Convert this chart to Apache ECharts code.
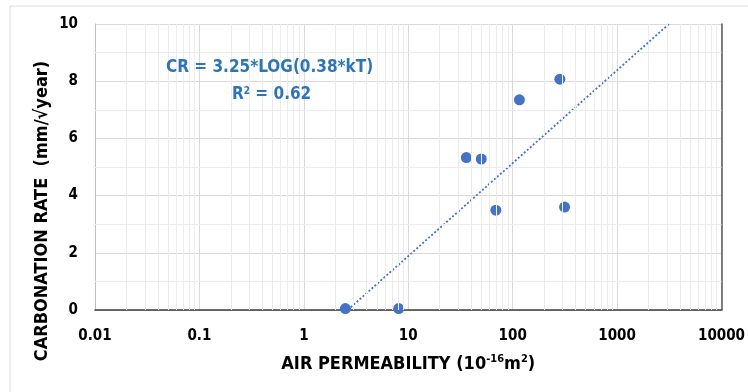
<!DOCTYPE html>
<html>
<head>
<meta charset="utf-8">
<script src="https://cdn.jsdelivr.net/npm/echarts@6/dist/echarts.min.js"></script>
<style>html,body{margin:0;padding:0;background:#fff;}#c{width:748px;height:392px;}</style>
</head>
<body>
<div id="c"></div>
<script>
// Data
const permeability = [2.5, 8.1, 36, 50, 69, 116, 283, 314];
const carbonationRate = [0.05, 0.05, 5.33, 5.28, 3.49, 7.35, 8.07, 3.6];
// Trendline endpoints as seen in the picture (CR = 3.25*LOG(0.38*kT))
const trendK = [2.63, 3140];
const trendCR = [0, 10];
const xTickLabels = ['0.01', '0.1', '1', '10', '100', '1000', '10000'];
const yTickLabels = ['0', '2', '4', '6', '8', '10'];
const xMinorGrid = [];
[0.01, 0.1, 1, 10, 100, 1000].forEach(d => { for (let m = 2; m <= 9; m++) xMinorGrid.push(+(d * m).toPrecision(3)); });
const yMinorGrid = [1, 3, 5, 7, 9];

const FONT = '"Liberation Sans Narrow","DejaVu Sans Condensed","Liberation Sans",sans-serif';
const chart = echarts.init(document.getElementById('c'), null, {renderer: 'canvas'});
chart.setOption({
  backgroundColor: '#fff',
  animation: false,
  grid: {left: 95, right: 25, top: 24, bottom: 82},
  graphic: [
    {type: 'line', z: 100, shape: {x1: 10, y1: 6, x2: 748, y2: 6}, style: {stroke: '#dcdcdc', lineWidth: 1}},
    {type: 'line', z: 100, shape: {x1: 10, y1: 6, x2: 10, y2: 392}, style: {stroke: '#dcdcdc', lineWidth: 1}},
    {type: 'text', z: 100, left: 166, top: 59, style: {text: 'CR = 3.25*LOG(0.38*kT)', font: 'bold 17px ' + FONT, fill: '#2e75b6'}},
    {type: 'text', z: 100, left: 232, top: 86, style: {
      text: '{a|R}{s|2}{a| = 0.62}',
      rich: {a: {font: 'bold 17px ' + FONT, fill: '#2e75b6'}, s: {font: 'bold 10px ' + FONT, fill: '#2e75b6', verticalAlign: 'top', padding: [0, 0, 8, 0]}}
    }},
    {type: 'text', z: 100, x: 42, y: 211, rotation: Math.PI / 2, style: {
      text: 'CARBONATION RATE  (mm/\u221Ayear)', font: 'bold 18px ' + FONT, fill: '#000', align: 'center', verticalAlign: 'middle'
    }}
  ],
  xAxis: [{
    type: 'log', logBase: 10, min: 0.01, max: 10000, splitNumber: 6,
    name: '{a|AIR PERMEABILITY (10}{s|-16}{a|m}{s|2}{a|)}',
    nameLocation: 'middle', nameGap: 44,
    nameTextStyle: {rich: {
      a: {fontFamily: FONT, fontWeight: 'bold', fontSize: 18, color: '#000'},
      s: {fontFamily: FONT, fontWeight: 'bold', fontSize: 11, color: '#000', verticalAlign: 'top', padding: [0, 0, 10, 0]}
    }},
    axisLine: {show: true, lineStyle: {color: '#bfbfbf', width: 1}},
    axisTick: {show: false},
    axisLabel: {margin: 19, fontFamily: FONT, fontWeight: 'bold', fontSize: 15, color: '#000',
      formatter: v => { const i = Math.round(Math.log10(v)) + 2; return xTickLabels[i] !== undefined ? xTickLabels[i] : ''; }},
    splitLine: {show: true, lineStyle: {color: '#d9d9d9', width: 1}}
  }, {
    type: 'log', logBase: 10, min: 0.01, max: 10000, position: 'top',
    axisLine: {show: true, lineStyle: {color: '#404040', width: 1.5}},
    axisTick: {show: false}, axisLabel: {show: false}, splitLine: {show: false}
  }],
  yAxis: [{
    type: 'value', min: 0, max: 10, interval: 2,
    axisLine: {show: true, lineStyle: {color: '#bfbfbf', width: 1}},
    axisTick: {show: false},
    axisLabel: {margin: 17, fontFamily: FONT, fontWeight: 'bold', fontSize: 15, color: '#000',
      formatter: v => yTickLabels[Math.round(v / 2)]},
    splitLine: {show: true, lineStyle: {color: '#d9d9d9', width: 1}}
  }, {
    type: 'value', min: 0, max: 10, position: 'right',
    axisLine: {show: true, lineStyle: {color: '#595959', width: 1.5}},
    axisTick: {show: false}, axisLabel: {show: false}, splitLine: {show: false}
  }],
  series: [{
    type: 'scatter', data: [], silent: true,
    markLine: {
      silent: true, symbol: 'none', animation: false,
      label: {show: false},
      lineStyle: {color: '#ececec', width: 1, type: 'solid'},
      data: xMinorGrid.map(v => ({xAxis: v})).concat(yMinorGrid.map(v => ({yAxis: v})))
    },
    z: 1
  }, {
    type: 'line', data: trendK.map((k, i) => [k, trendCR[i]]),
    showSymbol: false, symbol: 'none', silent: true,
    lineStyle: {color: '#4472c4', width: 1.8, type: [2, 2]},
    z: 3
  }, {
    type: 'scatter', data: permeability.map((k, i) => [k, carbonationRate[i]]),
    symbolSize: 11,
    itemStyle: {color: '#4472c4', opacity: 1},
    z: 4
  }]
});
</script>
</body>
</html>
